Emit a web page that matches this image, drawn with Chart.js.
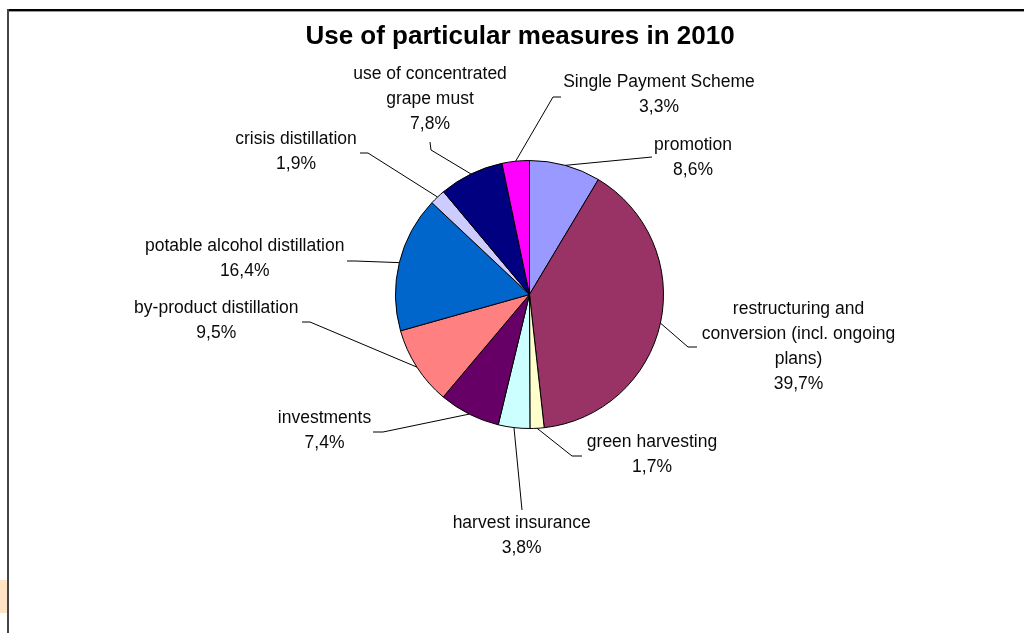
<!DOCTYPE html>
<html>
<head>
<meta charset="utf-8">
<script src="https://cdn.jsdelivr.net/npm/chart.js@4/dist/chart.umd.min.js"></script>
<style>
  html, body { margin: 0; padding: 0; background: #ffffff; }
  #wrap { position: relative; width: 1024px; height: 633px; }
</style>
</head>
<body>
<div id="wrap"><canvas id="c"></canvas></div>
<script>
// ---- data ----
const chartTitle = "Use of particular measures in 2010";
const categories = [
  ["promotion"],
  ["restructuring and", "conversion (incl. ongoing", "plans)"],
  ["green harvesting"],
  ["harvest insurance"],
  ["investments"],
  ["by-product distillation"],
  ["potable alcohol distillation"],
  ["crisis distillation"],
  ["use of concentrated", "grape must"],
  ["Single Payment Scheme"]
];
const shares = [8.6, 39.7, 1.7, 3.8, 7.4, 9.5, 16.4, 1.9, 7.8, 3.3];
const sliceColors = ["#9999FF", "#993366", "#FFFFCC", "#CCFFFF", "#660066",
                     "#FF8080", "#0066CC", "#CCCCFF", "#000080", "#FF00FF"];

// ---- label layout (offsets from pie centre, px) ----
const labelText = [
  [163.5, -149.5], [269, 14.5], [122.5, 147.2], [-7.8, 228.8], [-205, 123.8],
  [-313.2, 13.8], [-284.8, -48.5], [-233.5, -155.2], [-99.5, -220.2], [129.5, -212]
];
const leaderPts = [
  [[122.5, -137.5]],
  [[158.5, 52.5], [167.5, 52.5]],
  [[42.5, 161.5], [52.5, 161.5]],
  [[-7.5, 215.5]],
  [[-146.5, 137.5], [-156.5, 137.5]],
  [[-219.5, 27.5], [-227.5, 27.5]],
  [[-174.5, -33.5], [-182.5, -33.5]],
  [[-161.5, -141.5], [-169.5, -141.5]],
  [[-98.5, -144.5], [-99.5, -152.5]],
  [[23.5, -197.5], [31.5, -197.5]]
];

const fmtPct = v => v.toFixed(1).replace('.', ',') + '%';

const decor = {
  id: 'decor',
  beforeDraw(chart) {
    const ctx = chart.ctx;
    ctx.save();
    ctx.fillStyle = '#ffffff';
    ctx.fillRect(0, 0, chart.width, chart.height);
    // frame
    ctx.fillStyle = '#FFE3C4';
    ctx.fillRect(0, 580, 7, 33);
    ctx.fillStyle = '#000000';
    ctx.fillRect(7, 9, chart.width - 7, 2);
    ctx.fillStyle = '#9a9a9a';
    ctx.fillRect(9, 11, chart.width - 9, 1);
    ctx.fillStyle = '#444444';
    ctx.fillRect(7, 9, 2, chart.height - 9);
    // title
    ctx.fillStyle = '#000000';
    ctx.font = 'bold 26px "Liberation Sans", Arial, sans-serif';
    ctx.textAlign = 'center';
    ctx.textBaseline = 'middle';
    ctx.fillText(chartTitle, 520, 37);
    ctx.restore();
  },
  afterDatasetsDraw(chart) {
    const ctx = chart.ctx;
    const meta = chart.getDatasetMeta(0);
    ctx.save();
    ctx.strokeStyle = '#000000';
    ctx.lineWidth = 1;
    ctx.fillStyle = '#0a0a0a';
    ctx.font = '17.5px "Liberation Sans", Arial, sans-serif';
    ctx.textAlign = 'center';
    ctx.textBaseline = 'middle';
    meta.data.forEach((arc, i) => {
      const p = arc.getProps(['x', 'y', 'startAngle', 'endAngle', 'outerRadius'], true);
      const mid = (p.startAngle + p.endAngle) / 2;
      const sx = p.x + Math.cos(mid) * p.outerRadius;
      const sy = p.y + Math.sin(mid) * p.outerRadius;
      ctx.beginPath();
      ctx.moveTo(sx, sy);
      leaderPts[i].forEach(pt => ctx.lineTo(p.x + pt[0], p.y + pt[1]));
      ctx.stroke();
      const lines = categories[i].concat([fmtPct(shares[i])]);
      const tx = p.x + labelText[i][0];
      const ty = p.y + labelText[i][1];
      lines.forEach((ln, k) => ctx.fillText(ln, tx, ty + k * 25));
    });
    ctx.restore();
  }
};

new Chart(document.getElementById('c'), {
  type: 'pie',
  data: {
    labels: categories.map(c => c.join(' ')),
    datasets: [{
      data: shares,
      backgroundColor: sliceColors,
      borderColor: '#000000',
      borderWidth: 1,
      radius: 134
    }]
  },
  options: {
    responsive: true,
    maintainAspectRatio: false,
    animation: false,
    layout: { padding: { left: 35, right: 0, top: 0, bottom: 44 } },
    plugins: {
      legend: { display: false },
      tooltip: { enabled: false },
      title: { display: false }
    }
  },
  plugins: [decor]
});
</script>
</body>
</html>
